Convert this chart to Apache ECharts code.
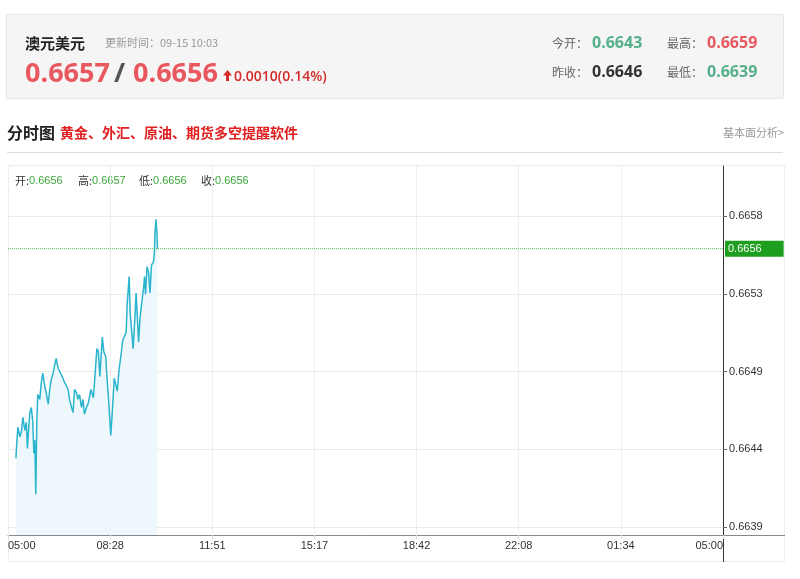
<!DOCTYPE html>
<html><head><meta charset="utf-8">
<script src="https://cdn.jsdelivr.net/npm/echarts@6/dist/echarts.min.js"></script>
<style>html,body{margin:0;padding:0;background:#fff}#c{width:800px;height:579px}</style>
</head><body><div id="c"></div>
<script>
// ---- data ----
const quoteName = '澳元美元';
const updateText = '更新时间：09-15 10:03';
const bidPrice = '0.6657';
const askPrice = '0.6656';
const changeText = '0.0010(0.14%)';
const statLabels = ['今开：', '最高：', '昨收：', '最低：'];
const statValues = ['0.6643', '0.6659', '0.6646', '0.6639'];
const sectionTitle = '分时图';
const promoText = '黄金、外汇、原油、期货多空提醒软件';
const linkText = '基本面分析>';
const ohlcLabels = ['开:', '高:', '低:', '收:'];
const ohlcValues = ['0.6656', '0.6657', '0.6656', '0.6656'];
const lastPrice = 0.6656;

const xTickLabels = ['05:00', '08:28', '11:51', '15:17', '18:42', '22:08', '01:34', '05:00'];
const yTickValues = [0.6639, 0.664375, 0.66485, 0.665325, 0.6658];
const yTickLabels = ['0.6639', '0.6644', '0.6649', '0.6653', '0.6658'];

const times = ['05:16','05:18','05:20','05:24','05:27','05:30','05:34','05:37','05:39','05:44',
'05:47','05:50','05:52','05:54','05:56','05:58','06:00','06:04','06:07','06:10',
'06:14','06:17','06:21','06:24','06:27','06:31','06:34','06:37','06:41','06:44',
'06:49','06:53','06:57','07:01','07:04','07:08','07:11','07:14','07:18','07:21',
'07:24','07:28','07:31','07:34','07:38','07:42','07:47','07:52','07:59','08:02',
'08:05','08:10','08:13','08:17','08:19','08:23','08:27','08:30','08:34','08:38',
'08:40','08:44','08:48','08:51','08:54','08:58','09:00','09:04','09:06','09:09',
'09:12','09:16','09:18','09:21','09:23','09:26','09:29','09:33','09:35','09:37',
'09:40','09:43','09:46','09:49','09:53','09:55','09:56','09:58','10:00','10:01'];
const prices = [0.66432,0.66443,0.66451,0.66445,0.66448,0.66457,0.66449,0.66454,0.66438,0.66460,
0.66463,0.66454,0.66435,0.66443,0.66410,0.66455,0.66471,0.66468,0.66478,0.66484,
0.66476,0.66472,0.66465,0.66474,0.66480,0.66484,0.66489,0.66493,0.66487,0.66485,
0.66482,0.66479,0.66480,0.66474,0.66468,0.66463,0.66460,0.66474,0.66472,0.66468,
0.66471,0.66463,0.66468,0.66459,0.66463,0.66466,0.66474,0.66469,0.66499,0.66497,
0.66482,0.66506,0.66497,0.66494,0.66483,0.66466,0.66446,0.66460,0.66481,0.66482,
0.66473,0.66487,0.66496,0.66504,0.66506,0.66509,0.66526,0.66543,0.66521,0.66520,
0.66499,0.66520,0.66533,0.66515,0.66503,0.66518,0.66526,0.66536,0.66543,0.66532,
0.66549,0.66546,0.66533,0.66550,0.66552,0.66558,0.66570,0.66578,0.66569,0.66560];

// ---- build ----
const DAY = 1440, SESSION_START = 5 * 60;
function toMin(t) { const p = t.split(':'); return ((+p[0]) * 60 + (+p[1]) - SESSION_START + DAY) % DAY; }
const seriesData = times.map((t, i) => [toMin(t), prices[i]]);
const xStep = DAY / (xTickLabels.length - 1);
const priceLineData = [[0, lastPrice], [DAY, lastPrice]];

const NUM = '"Open Sans","Noto Sans CJK SC",sans-serif';
const CJK = '"Noto Sans CJK SC","Open Sans",sans-serif';
const AX = '"Liberation Sans","Noto Sans",sans-serif';
const RED = '#e8585e', GREEN = '#55b08a';

const graphics = [
  { type: 'rect', z: -1, shape: { x: 6.5, y: 14.5, width: 777, height: 84 }, style: { fill: '#f5f5f5', stroke: '#e8e8e8' } },
  { type: 'text', x: 25, y: 43, style: { text: quoteName, font: 'bold 15px ' + CJK, fill: '#222', verticalAlign: 'middle' } },
  { type: 'text', x: 105, y: 43, style: { text: updateText, font: '11px ' + CJK, fill: '#999', verticalAlign: 'middle' } },
  { type: 'text', x: 25, y: 74, style: { text: bidPrice, font: 'bold 27px ' + NUM, fill: RED, verticalAlign: 'middle' } },
  { type: 'text', x: 114, y: 74, style: { text: '/', font: 'bold 27px ' + NUM, fill: '#555', verticalAlign: 'middle' } },
  { type: 'text', x: 133, y: 74, style: { text: askPrice, font: 'bold 27px ' + NUM, fill: RED, verticalAlign: 'middle' } },
  { type: 'polygon', shape: { points: [[223, 75.5], [227.5, 70], [232, 75.5], [229, 75.5], [229, 81], [226, 81], [226, 75.5]] }, style: { fill: '#d42a2a' } },
  { type: 'text', x: 234, y: 77, style: { text: changeText, font: '600 14px ' + NUM, fill: '#d42a2a', verticalAlign: 'middle' } },
  { type: 'text', x: 784, y: 133, style: { text: linkText, font: '11px ' + CJK, fill: '#999', align: 'right', verticalAlign: 'middle' } },
  { type: 'text', x: 7, y: 133, style: { text: sectionTitle, font: 'bold 16px ' + CJK, fill: '#222', verticalAlign: 'middle' } },
  { type: 'text', x: 60, y: 133, style: { text: promoText, font: 'bold 14px ' + CJK, fill: '#e02020', verticalAlign: 'middle' } },
  { type: 'line', shape: { x1: 7, y1: 152.5, x2: 783, y2: 152.5 }, style: { stroke: '#dddddd', lineWidth: 1 } },
  { type: 'rect', z: -1, shape: { x: 8.5, y: 165.5, width: 776, height: 396 }, style: { fill: 'none', stroke: '#ececec' } },
  { type: 'line', shape: { x1: 723, y1: 535.5, x2: 785, y2: 535.5 }, style: { stroke: '#888', lineWidth: 1 } },
  { type: 'line', shape: { x1: 723.5, y1: 535, x2: 723.5, y2: 562 }, style: { stroke: '#333', lineWidth: 1 } }
];
const statX = [[552, 592], [667, 707], [552, 592], [667, 707]];
const statY = [43, 43, 72, 72];
const statColors = [GREEN, RED, '#333', GREEN];
statLabels.forEach((l, i) => {
  graphics.push({ type: 'text', x: statX[i][0], y: statY[i], style: { text: l, font: '12px ' + CJK, fill: '#666', verticalAlign: 'middle' } });
  graphics.push({ type: 'text', x: statX[i][1], y: statY[i], style: { text: statValues[i], font: 'bold 16px ' + NUM, fill: statColors[i], verticalAlign: 'middle' } });
});
const ohlcX = [15, 78, 139, 201];
ohlcLabels.forEach((l, i) => {
  graphics.push({ type: 'text', x: ohlcX[i], y: 181, style: {
    text: '{k|' + l + '}{v|' + ohlcValues[i] + '}', verticalAlign: 'middle',
    rich: { k: { font: '11px ' + CJK, fill: '#333' }, v: { font: '11px ' + AX, fill: '#3aa63a' } } } });
});

const chart = echarts.init(document.getElementById('c'));
chart.setOption({
  animation: false,
  backgroundColor: '#fff',
  grid: { left: 8, right: 77, top: 166, bottom: 44, containLabel: false, outerBoundsMode: 'none' },
  xAxis: {
    type: 'value', min: 0, max: DAY, interval: xStep,
    axisLine: { onZero: false, lineStyle: { color: '#888' } },
    axisTick: { show: true, length: 4, lineStyle: { color: '#ddd' } },
    axisLabel: {
      margin: 5, color: '#333', fontSize: 11, fontFamily: AX,
      showMinLabel: true, showMaxLabel: true, alignMinLabel: 'left', alignMaxLabel: 'right',
      formatter: v => xTickLabels[Math.round(v / xStep)] || ''
    },
    splitLine: { show: true, lineStyle: { color: '#eeeeee' } }
  },
  yAxis: {
    type: 'value', position: 'right', min: 0.6638511, max: 0.6661055, scale: true,
    axisLine: { show: true, onZero: false, lineStyle: { color: '#333' } },
    axisTick: { show: true, length: 4, customValues: yTickValues, lineStyle: { color: '#666' } },
    axisLabel: {
      customValues: yTickValues, margin: 6, color: '#333', fontSize: 11, fontFamily: AX,
      formatter: v => { const i = yTickValues.findIndex(t => Math.abs(t - v) < 1e-7); return i >= 0 ? yTickLabels[i] : ''; }
    },
    splitLine: { show: true, lineStyle: { color: '#eaeaea' } }
  },
  series: [{
    type: 'line', data: seriesData, showSymbol: false, symbol: 'none', z: 3,
    lineStyle: { color: '#2ab4cd', width: 1.5 },
    areaStyle: { color: '#eef8fc', origin: 'start', opacity: 1 }
  }, {
    type: 'line', data: priceLineData, showSymbol: false, symbol: 'none', silent: true, z: 4,
    lineStyle: { type: 'dotted', color: '#4cb84c', width: 1 },
    endLabel: { show: true, distance: 2, formatter: () => lastPrice.toFixed(4),
      backgroundColor: '#1e9e1e', color: '#fff', fontSize: 11, fontFamily: AX,
      padding: [2, 22, 2, 3], lineHeight: 12 }
  }],
  graphic: graphics
});
</script></body></html>
